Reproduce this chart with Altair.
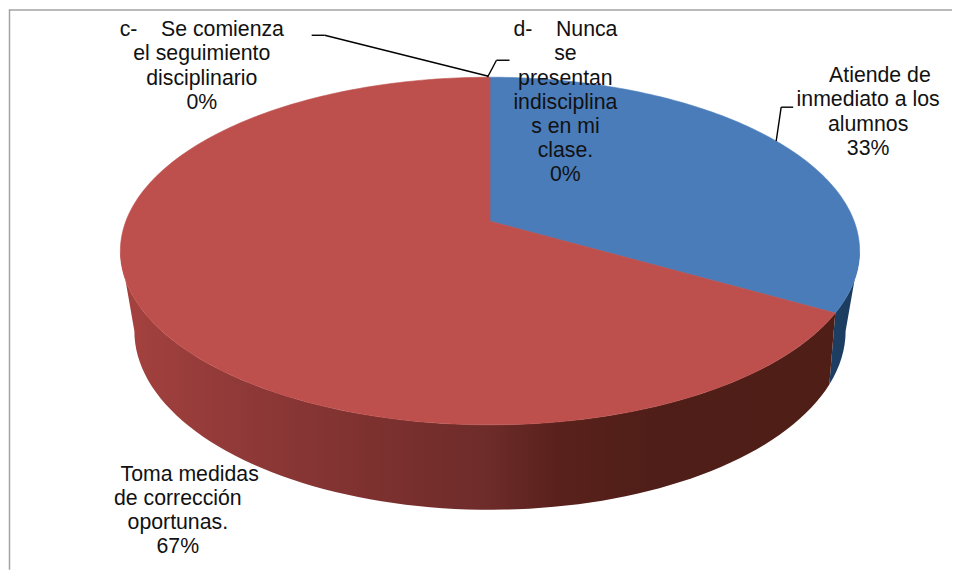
import math
import altair as alt
import pandas as pd

# ---- data ----
CATEGORIES = ["Atiende de inmediato a los alumnos", "Toma medidas de corrección oportunas.",
              "c- Se comienza el seguimiento disciplinario",
              "d- Nunca se presentan indisciplinas en mi clase."]
SHARES = [33.3, 66.7, 0.0, 0.0]
LABEL_LINES = [
    ["\u200b\u00a0\u00a0\u00a0\u00a0Atiende de", "inmediato a los", "alumnos"],
    ["\u200b\u00a0\u00a0\u00a0\u00a0Toma medidas", "de corrección", "oportunas."],
    ["c-\u00a0\u00a0\u00a0\u00a0Se comienza", "el seguimiento", "disciplinario"],
    ["d-\u00a0\u00a0\u00a0\u00a0Nunca", "se", "presentan", "indisciplina", "s en mi", "clase."],
]

# ---- style and view geometry (page pixels) ----
W, H = 945, 561
CX, CY, RX, RY = 490.5, 250, 370, 174
BCY, BRX, BRY = 330, 356, 179
V0 = -0.172              # how far the perspective lifts the pie centre
BOTTOM_SHIFT = 3.5       # the lower rim's edge angle differs under perspective
TOP = ["#4a7cba", "#bd4f4c"]
LABEL_POS = [(869, 75), (178, 474), (202, 29), (566, 29)]
LEADERS = [
    [(312, 34), (325, 34), (489, 75)],
    [(510, 59), (497, 59), (488, 76)],
    [(794, 106), (782, 106), (777, 140)],
]
RED_WALL = [(0, "#a5423f"), (.17, "#8f3938"), (.38, "#7a302e"), (.51, "#6e2c2a"),
            (.61, "#5a211c"), (.74, "#501e18"), (1, "#4f1e17")]
BLUE_WALL = [(0, "#1d3f63"), (1, "#1c3c5e")]

x_scale = alt.Scale(domain=[8, 8 + W], range=[0, W], nice=False, zero=False)
y_scale = alt.Scale(domain=[8 + H, 8], range=[H, 0], nice=False, zero=False)


def uv(theta_deg):
    """Unit-circle angle to normalised position on the perspective-tilted ellipse."""
    t = math.radians(theta_deg)
    X, Y = math.sin(t), -math.cos(t)
    d = 1 + V0 * Y
    return X * math.sqrt(1 - V0 * V0) / d, (Y + V0) / d


def sweep(a, b, step=2.0):
    n = max(2, int(abs(b - a) / step) + 1)
    return [a + (b - a) * i / (n - 1) for i in range(n)]


def polygon(points, fill):
    df = pd.DataFrame({"x": [p[0] for p in points], "y": [p[1] for p in points],
                       "i": list(range(len(points)))})
    return alt.Chart(df).mark_line(fill=fill, stroke=fill if isinstance(fill, str) else None,
                                   strokeWidth=0.6 if isinstance(fill, str) else 0,
                                   interpolate="linear").encode(
        x=alt.X("x:Q", scale=x_scale, axis=None),
        y=alt.Y("y:Q", scale=y_scale, axis=None),
        order=alt.Order("i:Q"),
    )


def grad(stops):
    return {"gradient": "linear", "x1": 0, "x2": 1, "y1": 0, "y2": 0,
            "stops": [{"offset": o, "color": c} for o, c in stops]}


def wall(a, b, a2, b2, stops):
    """Angles in degrees, clockwise from the top: a-b on the upper rim, a2-b2 on the lower."""
    top = [(CX + RX * math.sin(math.radians(p)), CY - RY * math.cos(math.radians(p))) for p in sweep(a, b)]
    low = [(CX + BRX * math.sin(math.radians(p)), BCY - BRY * math.cos(math.radians(p))) for p in sweep(b2, a2)]
    return polygon(top + low, grad(stops))


layers = []

# slice edge on the rim, from the first share
theta_end = 360 * SHARES[0] / sum(SHARES)
u, v = uv(theta_end)
phi = math.degrees(math.atan2(u, -v))

# side walls
layers.append(wall(90, phi, 90, phi - BOTTOM_SHIFT, BLUE_WALL))
layers.append(wall(phi, 270, phi - BOTTOM_SHIFT, 270, RED_WALL))

# top faces
apex = (CX + RX * uv(0)[0], CY + RY * V0)
start = 0.0
for share, colour in zip(SHARES[:2], TOP):
    end = start + 360 * share / sum(SHARES)
    rim = [(CX + RX * uv(t)[0], CY + RY * uv(t)[1]) for t in sweep(start, end, 1.0)]
    layers.append(polygon([apex] + rim + [apex], colour))
    start = end

# leader lines
base = pd.DataFrame({"a": [0]})
for path in LEADERS:
    for (x0, y0), (x1, y1) in zip(path, path[1:]):
        layers.append(alt.Chart(base).mark_rule(color="#000000", strokeWidth=1.4).encode(
            x=alt.value(x0 - 8), x2=alt.value(x1 - 8), y=alt.value(y0 - 8), y2=alt.value(y1 - 8)))

# frame
layers.append(alt.Chart(base).mark_rule(color="#a3a3a3", strokeWidth=1.5).encode(
    x=alt.value(1.5), y=alt.value(0), y2=alt.value(H)))
layers.append(alt.Chart(base).mark_rule(color="#a3a3a3", strokeWidth=1.5).encode(
    x=alt.value(1.5), x2=alt.value(W), y=alt.value(0.7)))

# data labels
for lines, share, (px, py) in zip(LABEL_LINES, SHARES, LABEL_POS):
    text = "\n".join(lines + [f"{round(share)}%"])
    layers.append(alt.Chart(pd.DataFrame({"t": [text]})).mark_text(
        font="Liberation Sans", fontSize=21.3, lineHeight=24.2, lineBreak="\n",
        align="center", baseline="middle", color="#111111").encode(
        x=alt.value(px - 8), y=alt.value(py - 8), text="t:N"))

chart = alt.layer(*layers).properties(
    width=W, height=H, padding=0, background="#ffffff"
).configure_view(stroke=None)

chart.save("out.html", embed_options={"renderer": "svg", "actions": False})
